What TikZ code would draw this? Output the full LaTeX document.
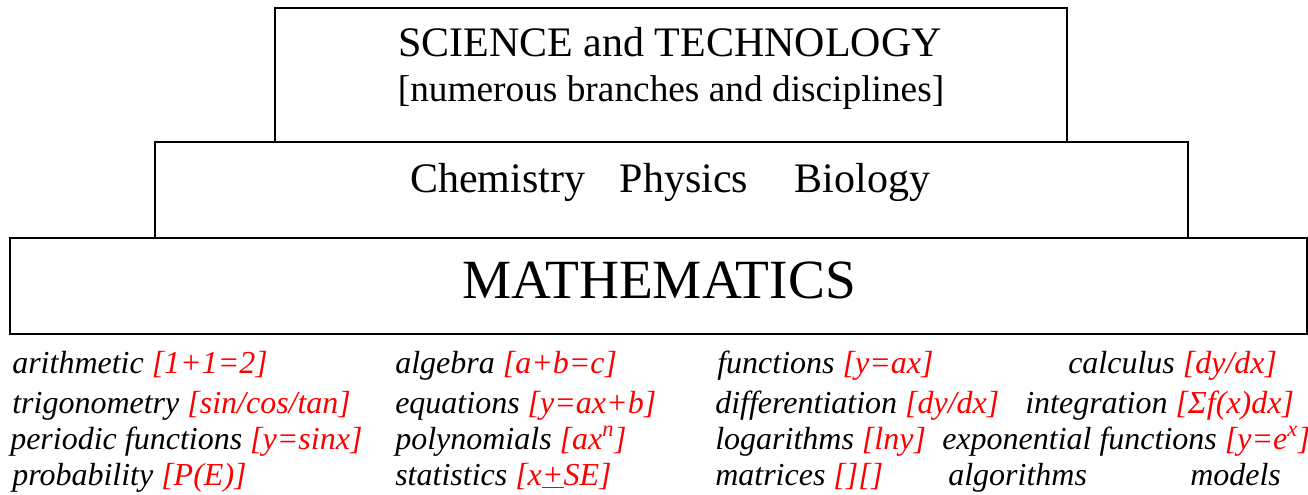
\documentclass[tikz,border=0pt]{standalone}
\usepackage{fontspec}
\setmainfont{Liberation Serif}
\usepackage{xcolor}
\usetikzlibrary{positioning}

\newcommand{\fml}[1]{\textcolor{red}{#1}}

\begin{document}
\begin{tikzpicture}[
        x=0.75pt, y=-0.75pt,
        tier/.style={
            draw,
            line width=1.5pt,
            inner sep=0pt
        },
        title/.style={anchor=base, inner sep=0pt, font=\fontsize{31.5}{33}\selectfont},
        item/.style={anchor=base west, inner sep=0pt, font=\fontsize{24}{26}\selectfont\itshape}
    ]

        \useasboundingbox (0,0) rectangle (1308,495);

        % the three tiers
        \node[tier, minimum width=594pt,    minimum height=100.5pt] (sci)   at (671,75)    {};
        \node[tier, minimum width=774.75pt, minimum height=72pt]    (nat)   at (671.5,190) {};
        \node[tier, minimum width=972.75pt, minimum height=72pt]    (maths) at (658.5,286) {};

        \node[title] (scitop) at (670,57)  {SCIENCE and TECHNOLOGY};
        \node[title, font=\fontsize{28}{30}\selectfont] (scibot) at (671,102)
            {[numerous branches and disciplines]};
        \node[title, anchor=base west] (natlbl) at (410,193)
            {Chemistry\hspace{26pt}Physics\hspace{35pt}Biology};
        \node[title, font=\fontsize{41.5}{44}\selectfont] (mathlbl) at (659,298) {MATHEMATICS};

        % branches of mathematics
        \node[item] (arith) at (12,373)   {arithmetic \fml{[1+1=2]}};
        \node[item] (alg)   at (395,373)  {algebra \fml{[a+b=c]}};
        \node[item] (func)  at (717,373)  {functions \fml{[y=ax]}};
        \node[item] (calc)  at (1068,373) {calculus \fml{[dy/dx]}};

        \node[item] (trig)  at (12,413)   {trigonometry \fml{[sin/cos/tan]}};
        \node[item] (eqn)   at (395,413)  {equations \fml{[y=ax+b]}};
        \node[item] (diff)  at (715,413)  {differentiation \fml{[dy/dx]}};
        \node[item] (integ) at (1025,413) {integration \fml{[Σf(x)dx]}};

        \node[item] (peri)  at (10,449)   {periodic functions \fml{[y=sinx]}};
        \node[item] (poly)  at (395,449)  {polynomials \fml{[ax\textsuperscript{n}]}};
        \node[item] (logs)  at (715,449)  {logarithms \fml{[lny]}};
        \node[item] (expo)  at (942,449)  {exponential functions \fml{[y=e\textsuperscript{x}]}};

        \node[item] (prob)  at (12,485)   {probability \fml{[P(E)]}};
        \node[item] (stat)  at (395,485)  {statistics \fml{[x\underline{+}SE]}};
        \node[item] (matr)  at (715,485)  {matrices \fml{[][]}};
        \node[item] (algo)  at (948,485)  {algorithms};
        \node[item] (model) at (1190,485) {models};

    \end{tikzpicture}
\end{document}
